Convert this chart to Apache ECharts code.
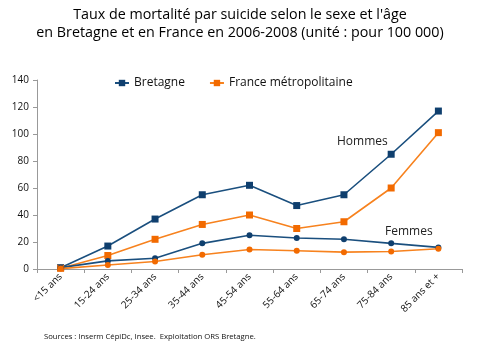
<!DOCTYPE html>
<html><head><meta charset="utf-8">
<script src="https://cdn.jsdelivr.net/npm/echarts@6/dist/echarts.min.js"></script>
<style>html,body{margin:0;padding:0;background:#fff}#c{width:480px;height:343px}</style>
</head><body><div id="c"></div>
<script>
const categories = ['<15 ans','15-24 ans','25-34 ans','35-44 ans','45-54 ans','55-64 ans','65-74 ans','75-84 ans','85 ans et +'];
const bretagneHommes = [1, 17, 37, 55, 62, 47, 55, 85, 117];
const franceHommes = [0.5, 10, 22, 33, 40, 30, 35, 60, 101];
const bretagneFemmes = [1, 6, 8, 19, 25, 23, 22, 19, 16];
const franceFemmes = [0.3, 3, 5.5, 10.5, 14.5, 13.5, 12.5, 13, 15];
const yTicks = [0, 20, 40, 60, 80, 100, 120, 140];

const navy = '#1a4f7e', navyM = '#0f3f6e';
const orange = '#f7821e', orangeM = '#f26a00';
const font = '"Open Sans", "Liberation Sans", sans-serif';

const chart = echarts.init(document.getElementById('c'), null, {renderer:'canvas'});
function s(name, data, color, mcolor, sym, size){
  return {name, type:'line', data, symbol:sym, symbolSize:size,
    lineStyle:{color, width:1.6}, itemStyle:{color:mcolor},
    showSymbol:true, animation:false, z: 3};
}
chart.setOption({
  animation:false,
  title:{text:"Taux de mortalité par suicide selon le sexe et l'âge\nen Bretagne et en France en 2006-2008 (unité : pour 100 000)",
    left:'center', top:1,
    textStyle:{fontFamily:font, fontSize:14.3, fontWeight:'normal', color:'#000', lineHeight:18}},
  legend:{top:72, left:109, itemGap:24, itemWidth:14, itemHeight:8,
    data:['Bretagne','France métropolitaine'],
    textStyle:{fontFamily:font, fontSize:12, color:'#111'}},
  grid:{left:37, right:18, top:80, bottom:74},
  xAxis:{type:'category', data:categories, boundaryGap:true,
    axisLine:{lineStyle:{color:'#999'}},
    axisTick:{show:true, length:4, lineStyle:{color:'#999'}},
    axisLabel:{rotate:45, fontFamily:font, fontSize:10, color:'#111', margin:6, interval:0}},
  yAxis:{type:'value', min:0, max:140, interval:20,
    axisLine:{show:true, lineStyle:{color:'#999'}},
    axisTick:{show:true, length:4, lineStyle:{color:'#999'}},
    splitLine:{show:false},
    axisLabel:{fontFamily:font, fontSize:10, color:'#111', margin:8,
      formatter:v=> yTicks.includes(v)? String(v):''}},
  series:[
    s('Bretagne', bretagneHommes, navy, navyM, 'rect', 7),
    s('France métropolitaine', franceHommes, orange, orangeM, 'rect', 7),
    s('Bretagne', bretagneFemmes, navy, navyM, 'circle', 6),
    s('France métropolitaine', franceFemmes, orange, orangeM, 'circle', 6)
  ],
  graphic:[
    {type:'text', left:337, top:136, style:{text:'Hommes', font:'12px '+font, fill:'#222'}},
    {type:'text', left:385, top:226, style:{text:'Femmes', font:'12px '+font, fill:'#222'}},
    {type:'text', left:44, top:333, style:{text:'Sources : Inserm CépiDc, Insee.  Exploitation ORS Bretagne.', font:'7.7px '+font, fill:'#111'}}
  ]
});
</script></body></html>
